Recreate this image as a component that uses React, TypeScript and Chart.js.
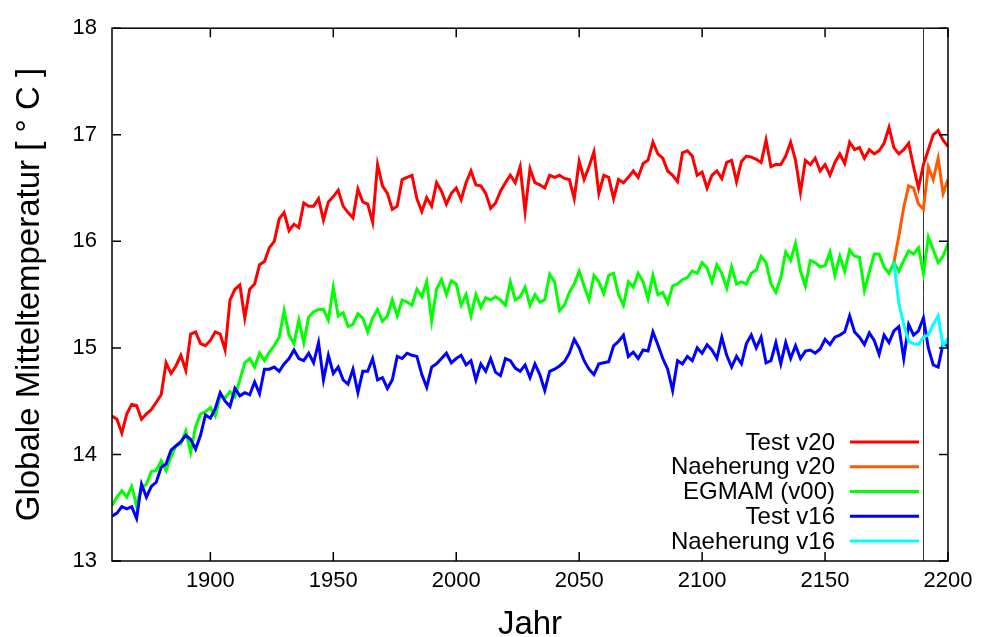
import React, { useEffect, useRef } from 'react';
import Chart from 'chart.js/auto';

const FONT = "'Liberation Sans', Arial, Helvetica, sans-serif";

// Years (every second year)
const YEARS = [
  1860, 1862, 1864, 1866, 1868, 1870, 1872, 1874, 1876, 1878,
  1880, 1882, 1884, 1886, 1888, 1890, 1892, 1894, 1896, 1898,
  1900, 1902, 1904, 1906, 1908, 1910, 1912, 1914, 1916, 1918,
  1920, 1922, 1924, 1926, 1928, 1930, 1932, 1934, 1936, 1938,
  1940, 1942, 1944, 1946, 1948, 1950, 1952, 1954, 1956, 1958,
  1960, 1962, 1964, 1966, 1968, 1970, 1972, 1974, 1976, 1978,
  1980, 1982, 1984, 1986, 1988, 1990, 1992, 1994, 1996, 1998,
  2000, 2002, 2004, 2006, 2008, 2010, 2012, 2014, 2016, 2018,
  2020, 2022, 2024, 2026, 2028, 2030, 2032, 2034, 2036, 2038,
  2040, 2042, 2044, 2046, 2048, 2050, 2052, 2054, 2056, 2058,
  2060, 2062, 2064, 2066, 2068, 2070, 2072, 2074, 2076, 2078,
  2080, 2082, 2084, 2086, 2088, 2090, 2092, 2094, 2096, 2098,
  2100, 2102, 2104, 2106, 2108, 2110, 2112, 2114, 2116, 2118,
  2120, 2122, 2124, 2126, 2128, 2130, 2132, 2134, 2136, 2138,
  2140, 2142, 2144, 2146, 2148, 2150, 2152, 2154, 2156, 2158,
  2160, 2162, 2164, 2166, 2168, 2170, 2172, 2174, 2176, 2178,
  2180, 2182, 2184, 2186, 2188, 2190, 2192, 2194, 2196, 2198,
  2200,
];

const TEST_V20 = [
  14.36, 14.33, 14.20, 14.38, 14.47, 14.46, 14.33, 14.38, 14.42, 14.49,
  14.56, 14.86, 14.76, 14.83, 14.93, 14.79, 15.13, 15.15, 15.04, 15.02,
  15.07, 15.15, 15.13, 14.98, 15.45, 15.55, 15.59, 15.28, 15.55, 15.60,
  15.78, 15.81, 15.94, 16.00, 16.21, 16.27, 16.10, 16.16, 16.13, 16.36,
  16.33, 16.33, 16.40, 16.20, 16.37, 16.42, 16.48, 16.33, 16.27, 16.22,
  16.49, 16.37, 16.35, 16.18, 16.72, 16.52, 16.45, 16.30, 16.33, 16.58,
  16.60, 16.62, 16.40, 16.28, 16.41, 16.33, 16.55, 16.47, 16.35, 16.45,
  16.50, 16.39, 16.55, 16.66, 16.53, 16.52, 16.45, 16.31, 16.36, 16.47,
  16.55, 16.62, 16.55, 16.70, 16.28, 16.68, 16.55, 16.53, 16.50, 16.62,
  16.60, 16.62, 16.59, 16.58, 16.40, 16.75, 16.58, 16.70, 16.84, 16.45,
  16.62, 16.60, 16.40, 16.58, 16.55, 16.60, 16.66, 16.60, 16.73, 16.76,
  16.93, 16.82, 16.78, 16.66, 16.62, 16.56, 16.83, 16.85, 16.80, 16.62,
  16.65, 16.50, 16.62, 16.66, 16.59, 16.74, 16.76, 16.56, 16.75, 16.80,
  16.79, 16.77, 16.74, 16.95, 16.70, 16.72, 16.72, 16.80, 16.93, 16.76,
  16.46, 16.76, 16.72, 16.78, 16.66, 16.72, 16.62, 16.74, 16.82, 16.73,
  16.93, 16.86, 16.88, 16.78, 16.86, 16.82, 16.85, 16.92, 17.07, 16.88,
  16.82, 16.86, 16.92, 16.70, 16.50, 16.72, 16.86, 17.00, 17.04, 16.95,
  16.89,
];

const EGMAM_V00 = [
  13.52, 13.60, 13.66, 13.60, 13.70, 13.52, 13.69, 13.72, 13.84, 13.85,
  13.94, 13.85, 13.98, 14.08, 14.10, 14.22, 14.02, 14.26, 14.38, 14.40,
  14.44, 14.36, 14.55, 14.53, 14.59, 14.54, 14.70, 14.86, 14.90, 14.82,
  14.95, 14.88, 14.96, 15.02, 15.10, 15.35, 15.12, 15.04, 15.26, 15.05,
  15.29, 15.34, 15.36, 15.36, 15.26, 15.57, 15.30, 15.33, 15.20, 15.22,
  15.32, 15.28, 15.15, 15.28, 15.36, 15.25, 15.30, 15.45, 15.30, 15.45,
  15.43, 15.40, 15.55, 15.48, 15.62, 15.25, 15.55, 15.64, 15.50, 15.63,
  15.60, 15.40, 15.50, 15.30, 15.50, 15.38, 15.47, 15.45, 15.48, 15.45,
  15.40, 15.62, 15.45, 15.48, 15.57, 15.40, 15.50, 15.43, 15.45, 15.69,
  15.62, 15.35, 15.40, 15.52, 15.60, 15.72, 15.58, 15.45, 15.68, 15.62,
  15.51, 15.68, 15.70, 15.50, 15.40, 15.62, 15.57, 15.70, 15.62, 15.46,
  15.68, 15.50, 15.52, 15.42, 15.58, 15.60, 15.64, 15.66, 15.72, 15.70,
  15.80, 15.75, 15.62, 15.78, 15.70, 15.56, 15.76, 15.60, 15.62, 15.60,
  15.70, 15.73, 15.86, 15.80, 15.60, 15.52, 15.66, 15.90, 15.82, 15.98,
  15.72, 15.58, 15.82, 15.80, 15.76, 15.77, 15.90, 15.68, 15.86, 15.72,
  15.92, 15.86, 15.85, 15.54, 15.71, 15.88, 15.88, 15.76, 15.70, 15.80,
  15.72, 15.82, 15.91, 15.88, 15.94, 15.70, 16.04, 15.92, 15.80, 15.86,
  15.98,
];

const TEST_V16 = [
  13.42, 13.45, 13.51, 13.49, 13.51, 13.40, 13.72, 13.60, 13.70, 13.74,
  13.88, 13.91, 14.04, 14.08, 14.12, 14.18, 14.14, 14.05, 14.18, 14.37,
  14.34, 14.43, 14.58, 14.50, 14.45, 14.62, 14.55, 14.58, 14.56, 14.68,
  14.57, 14.80, 14.80, 14.82, 14.78, 14.85, 14.90, 14.98, 14.90, 14.88,
  14.95, 14.86, 15.05, 14.70, 14.93, 14.76, 14.82, 14.70, 14.66, 14.80,
  14.58, 14.78, 14.78, 14.90, 14.70, 14.72, 14.62, 14.70, 14.92, 14.90,
  14.95, 14.93, 14.92, 14.75, 14.63, 14.82, 14.85, 14.90, 14.95, 14.86,
  14.90, 14.93, 14.84, 14.88, 14.70, 14.85, 14.78, 14.90, 14.77, 14.74,
  14.90, 14.88, 14.81, 14.78, 14.84, 14.72, 14.85, 14.75, 14.60, 14.78,
  14.80, 14.83, 14.87, 14.95, 15.08, 15.00, 14.88, 14.80, 14.75, 14.85,
  14.86, 14.87, 15.02, 15.06, 15.12, 14.92, 14.96, 14.90, 14.98, 14.97,
  15.15, 15.03, 14.90, 14.80, 14.60, 14.88, 14.85, 14.92, 14.88, 15.00,
  14.95, 15.03, 14.98, 14.90, 15.10, 14.93, 14.82, 14.92, 14.85, 15.04,
  15.12, 15.00, 15.10, 14.86, 14.88, 15.05, 14.85, 15.05, 14.90, 15.02,
  14.90, 14.97, 14.98, 14.95, 14.99, 15.08, 15.03, 15.10, 15.12, 15.15,
  15.30, 15.15, 15.10, 15.03, 15.14, 15.07, 14.94, 15.12, 15.05, 15.16,
  15.20, 14.90, 15.22, 15.12, 15.16, 15.28, 15.00, 14.84, 14.82, 15.04,
  15.02,
];

// Approximation runs branching off at the end
const NAEH_YEARS = [2178, 2180, 2182, 2184, 2186, 2188, 2190, 2192, 2194, 2196, 2198, 2200];
const NAEH_V20 = [15.80, 16.05, 16.32, 16.52, 16.50, 16.35, 16.30, 16.70, 16.58, 16.78, 16.45, 16.58];
const NAEH_V16 = [15.80, 15.42, 15.22, 15.06, 15.04, 15.03, 15.10, 15.12, 15.22, 15.30, 15.02, 15.09];

const X_TICKS = [1900, 1950, 2000, 2050, 2100, 2150, 2200];
const Y_TICKS = [13, 14, 15, 16, 17, 18];
const MARK_YEAR = 2190;

const SERIES_LABELS = ['Test v20', 'Naeherung v20', 'EGMAM (v00)', 'Test v16', 'Naeherung v16'];
const SERIES_COLORS = ['#ff0000', '#ff5a00', '#00ff00', '#0000ff', '#00ffff'];

const pts = (xs: number[], ys: number[]) => xs.map((x, i) => ({ x, y: ys[i] }));

const framePlugin = {
  id: 'gnuFrame',
  beforeDatasetsDraw(chart: any) {
    const { ctx, chartArea, scales } = chart;
    const vx = Math.round(scales.x.getPixelForValue(MARK_YEAR)) + 0.5;
    ctx.save();
    ctx.strokeStyle = '#333';
    ctx.lineWidth = 1;
    ctx.beginPath();
    ctx.moveTo(vx, chartArea.top);
    ctx.lineTo(vx, chartArea.bottom);
    ctx.stroke();
    ctx.restore();
  },
  afterDatasetsDraw(chart: any) {
    const { ctx, chartArea, scales } = chart;
    const { left, right, top, bottom } = chartArea;
    ctx.save();
    ctx.strokeStyle = '#000';
    ctx.lineWidth = 1.5;
    ctx.strokeRect(left, top, right - left, bottom - top);
    const TL = 9;
    ctx.beginPath();
    for (const v of Y_TICKS) {
      const py = scales.y.getPixelForValue(v);
      ctx.moveTo(left, py); ctx.lineTo(left + TL, py);
      ctx.moveTo(right, py); ctx.lineTo(right - TL, py);
    }
    for (const v of X_TICKS) {
      const px = scales.x.getPixelForValue(v);
      ctx.moveTo(px, bottom); ctx.lineTo(px, bottom - TL);
      ctx.moveTo(px, top); ctx.lineTo(px, top + TL);
    }
    ctx.stroke();

    // gnuplot-style key (bottom right, text right-aligned, sample on the right)
    ctx.font = `24px ${FONT}`;
    ctx.textAlign = 'right';
    ctx.textBaseline = 'middle';
    const step = 24.75;
    const n = chart.data.datasets.length;
    chart.data.datasets.forEach((ds: any, i: number) => {
      const yy = bottom - 20 - (n - 1 - i) * step;
      ctx.fillStyle = '#000';
      ctx.fillText(ds.label, right - 113, yy + 1);
      ctx.strokeStyle = ds.borderColor;
      ctx.lineWidth = 3;
      ctx.beginPath();
      ctx.moveTo(right - 98, yy);
      ctx.lineTo(right - 29, yy);
      ctx.stroke();
    });
    ctx.restore();
  },
};

export default function App() {
  const ref = useRef<HTMLCanvasElement>(null);
  useEffect(() => {
    Chart.defaults.font.family = FONT;
    const seriesData = [
      pts(YEARS, TEST_V20),
      pts(NAEH_YEARS, NAEH_V20),
      pts(YEARS, EGMAM_V00),
      pts(YEARS, TEST_V16),
      pts(NAEH_YEARS, NAEH_V16),
    ];
    const chart = new Chart(ref.current as HTMLCanvasElement, {
      type: 'line',
      data: {
        datasets: seriesData.map((d, i) => ({
          label: SERIES_LABELS[i],
          data: d,
          borderColor: SERIES_COLORS[i],
          backgroundColor: SERIES_COLORS[i],
          borderWidth: 3,
          pointRadius: 0,
          tension: 0,
          fill: false,
          order: 4 - i,
        })),
      },
      options: {
        animation: false,
        responsive: true,
        maintainAspectRatio: false,
        layout: { padding: { left: 0, right: 33, top: 24, bottom: 0 } },
        plugins: { legend: { display: false }, tooltip: { enabled: false } },
        scales: {
          x: {
            type: 'linear',
            min: 1860,
            max: 2200,
            afterBuildTicks: (s: any) => { s.ticks = X_TICKS.map((v) => ({ value: v })); },
            afterFit: (s: any) => { s.height = 76; },
            grid: { display: false, drawTicks: false },
            border: { display: false },
            ticks: {
              color: '#000',
              font: { size: 22, family: FONT },
              padding: 7,
              maxRotation: 0,
              autoSkip: false,
              callback: (v: any) => String(v),
            },
            title: {
              display: true,
              text: 'Jahr',
              color: '#000',
              font: { size: 33, family: FONT, lineHeight: 1 },
              padding: { top: 0, bottom: -4 },
            },
          },
          y: {
            type: 'linear',
            min: 13,
            max: 18,
            afterBuildTicks: (s: any) => { s.ticks = Y_TICKS.map((v) => ({ value: v })); },
            afterFit: (s: any) => { s.width = 112; },
            grid: { display: false, drawTicks: false },
            border: { display: false },
            ticks: {
              color: '#000',
              font: { size: 22, family: FONT },
              padding: 15,
              callback: (v: any) => String(v),
            },
            title: {
              display: true,
              text: 'Globale Mitteltemperatur [ ° C ]',
              color: '#000',
              font: { size: 33, family: FONT, lineHeight: 1 },
              padding: { top: 13, bottom: 0 },
            },
          },
        },
      },
      plugins: [framePlugin],
    } as any);
    return () => chart.destroy();
  }, []);
  return (
    <div style={{ position: 'fixed', left: 0, top: 0, width: 981, height: 637, background: '#fff' }}>
      <canvas ref={ref} />
    </div>
  );
}
